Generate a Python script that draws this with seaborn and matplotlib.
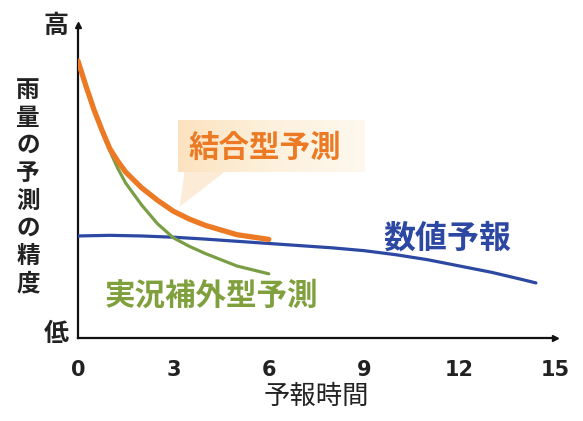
import numpy as np
import pandas as pd
import matplotlib
matplotlib.use("Agg")
import matplotlib.pyplot as plt
import seaborn as sns

# Forecast lead time (hours) and relative rainfall-forecast accuracy (0 = low, 100 = high)
nowcast_hours = [0, 0.25, 0.5, 0.75, 1, 1.25, 1.5, 2, 2.5, 3, 3.5, 4, 5, 6]
nowcast_skill = [88.5, 80.3, 72.8, 66.0, 59.8, 54.2, 49.5, 42.5, 36.5, 32.0,
                 29.3, 27.0, 23.0, 20.5]

blended_hours = [0, 0.25, 0.5, 0.75, 1, 1.25, 1.5, 2, 2.5, 3, 3.5, 4, 5, 6]
blended_skill = [88.5, 80.5, 73.0, 66.5, 60.5, 56.5, 53.0, 48.0, 44.0, 40.5,
                 38.0, 36.0, 33.0, 31.5]

nwp_hours = [0, 1, 2, 3, 4, 5, 6, 7, 8, 9, 10, 11, 12, 13, 14, 14.4]
nwp_skill = [32.6, 32.8, 32.6, 32.2, 31.6, 30.9, 30.2, 29.5, 28.8, 27.9,
             26.6, 25.0, 23.0, 21.0, 18.6, 17.6]

x_ticks = [0, 3, 6, 9, 12, 15]
x_label = "予報時間"
y_label = "雨量の予測の精度"
y_high, y_low = "高", "低"
name_nowcast = "実況補外型予測"
name_blended = "結合型予測"
name_nwp = "数値予報"

c_orange = "#EC7A24"
c_green = "#7A9E45"
c_blue = "#2C48A2"
c_green_txt = "#80A03E"
c_ink = "#222222"

sns.set_theme(style="white")
plt.rcParams["font.family"] = ["Noto Sans CJK JP", "DejaVu Sans"]

fig = plt.figure(figsize=(5.83, 4.21), dpi=100)
ax = fig.add_axes([78 / 583, 83 / 421, 477 / 583, 313 / 421])

df_now = pd.DataFrame({"h": nowcast_hours, "v": nowcast_skill})
df_bl = pd.DataFrame({"h": blended_hours, "v": blended_skill})
df_nwp = pd.DataFrame({"h": nwp_hours, "v": nwp_skill})

# Callout bubble behind the blended label
bx0, bx1, by0, by1 = 3.14, 9.0, 53.0, 69.6
grad = np.linspace(0, 1, 256).reshape(1, -1)
cmap = matplotlib.colors.LinearSegmentedColormap.from_list(
    "bubble", ["#FCE2BF", "#FDF1DD", "#FEF8EE"])
ax.imshow(grad, extent=[bx0, bx1, by0, by1], cmap=cmap, aspect="auto",
          zorder=1, interpolation="bicubic")
tail = plt.Polygon([[3.35, by0], [4.6, by0], [3.2, 42.0]], closed=True,
                   facecolor="#FCEBD6", edgecolor="none", zorder=1)
ax.add_patch(tail)

sns.lineplot(data=df_nwp, x="h", y="v", color=c_blue, linewidth=2.3, ax=ax, zorder=3)
sns.lineplot(data=df_now, x="h", y="v", color=c_green, linewidth=2.3, ax=ax, zorder=4)
sns.lineplot(data=df_bl, x="h", y="v", color=c_orange, linewidth=3.8, ax=ax, zorder=5)

ax.set_xlim(0, 15)
ax.set_ylim(0, 100)
ax.set_xticks(x_ticks)
ax.set_xticklabels([str(t) for t in x_ticks], fontsize=15, fontweight="bold",
                   family=["DejaVu Sans"])
ax.set_yticks([])
ax.tick_params(axis="x", length=0, pad=16, colors=c_ink)
ax.set_xlabel(x_label, fontsize=19, labelpad=2, color=c_ink)
ax.set_ylabel("")

for side in ["top", "right"]:
    ax.spines[side].set_visible(False)
for side in ["left", "bottom"]:
    ax.spines[side].set_color("#111111")
    ax.spines[side].set_linewidth(1.6)
ax.plot(1, 0, ">", color="#111111", markersize=5, transform=ax.transAxes, clip_on=False)
ax.plot(0, 1, "^", color="#111111", markersize=5, transform=ax.transAxes, clip_on=False)

ax.text(5.88, 60.7, name_blended, color=c_orange, fontsize=22, fontweight="bold",
        ha="center", va="center", zorder=6)
ax.text(11.6, 31.8, name_nwp, color=c_blue, fontsize=23, fontweight="bold",
        ha="center", va="center", zorder=6)
ax.text(4.2, 13.4, name_nowcast, color=c_green_txt, fontsize=22, fontweight="bold",
        ha="center", va="center", zorder=6)

# Vertical, stacked axis caption plus high/low markers
for i, ch in enumerate(y_label):
    fig.text(28 / 583, 1 - (90 + i * 27.6) / 421, ch, fontsize=17, fontweight="bold",
             ha="center", va="center", color=c_ink)
fig.text(56 / 583, 1 - 26 / 421, y_high, fontsize=18, fontweight="bold",
         ha="center", va="center", color=c_ink)
fig.text(56 / 583, 1 - 334 / 421, y_low, fontsize=18, fontweight="bold",
         ha="center", va="center", color=c_ink)

fig.savefig("out.png", dpi=100, facecolor="white")
